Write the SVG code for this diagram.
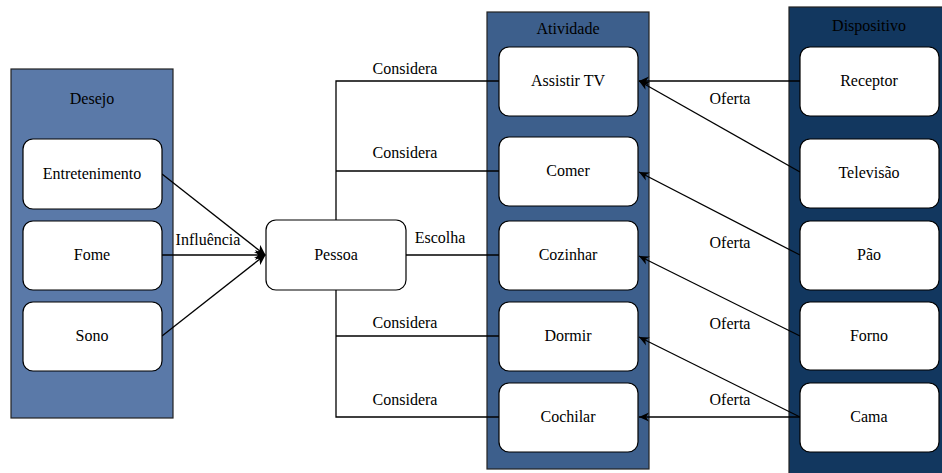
<svg xmlns="http://www.w3.org/2000/svg" width="942" height="473" viewBox="0 0 942 473">
<defs>
<style>
.c1{fill:#5a79a8;stroke:#222;stroke-width:1.2}
.c2{fill:#3d5f8c;stroke:#222;stroke-width:1.2}
.c3{fill:#12375f;stroke:#222;stroke-width:1.2}
.n{fill:#fff;stroke:#000;stroke-width:1.2}
text{font-family:"Liberation Serif","Times New Roman",serif;font-size:16px;fill:#000;text-anchor:middle}
.e{fill:none;stroke:#000;stroke-width:1.3}
</style>
<marker id="af" markerWidth="12" markerHeight="10" refX="10" refY="5" orient="auto" markerUnits="userSpaceOnUse">
<path d="M0,0 L11,5 L0,10 L3,5 Z" fill="#000"/>
</marker>
<marker id="ao" markerWidth="12" markerHeight="10" refX="10" refY="5" orient="auto" markerUnits="userSpaceOnUse">
<path d="M0,0.5 L10,5 L0,9.5 L3,5 Z" fill="#000"/>
</marker>
</defs>
<rect width="942" height="473" fill="#fff"/>
<g id="desejo">
<rect class="c1" x="11" y="69" width="162" height="349"/>
<text x="92" y="104">Desejo</text>
</g>
<g id="atividade">
<rect class="c2" x="487" y="12" width="162" height="457"/>
<text x="568" y="34">Atividade</text>
</g>
<g id="dispositivo">
<rect class="c3" x="789" y="7" width="160" height="470"/>
<text x="869" y="31">Dispositivo</text>
</g>
<g id="connectors">
<path class="e" d="M162,174 L265,255" marker-end="url(#af)"/>
<path class="e" d="M162,255 L265,255" marker-end="url(#af)"/>
<path class="e" d="M162,336 L265,255" marker-end="url(#af)"/>
<text x="208" y="245">Influência</text>
<path class="e" d="M336,220 L336,81 L499,81"/>
<path class="e" d="M336,171 L499,171"/>
<path class="e" d="M406,255 L499,255"/>
<path class="e" d="M336,290 L336,417 L499,417"/>
<path class="e" d="M336,336 L499,336"/>
<text x="405" y="74">Considera</text>
<text x="405" y="158">Considera</text>
<text x="440" y="243">Escolha</text>
<text x="405" y="328">Considera</text>
<text x="405" y="405">Considera</text>
<path class="e" d="M800,81 L639,81" marker-end="url(#ao)"/>
<path class="e" d="M800,172 L639,81" marker-end="url(#ao)"/>
<path class="e" d="M800,255 L639,172" marker-end="url(#ao)"/>
<path class="e" d="M800,336 L639,256" marker-end="url(#ao)"/>
<path class="e" d="M800,417 L639,337" marker-end="url(#ao)"/>
<path class="e" d="M800,417 L639,417" marker-end="url(#ao)"/>
<text x="730" y="104">Oferta</text>
<text x="730" y="248">Oferta</text>
<text x="730" y="329">Oferta</text>
<text x="730" y="405">Oferta</text>
</g>
<g id="entretenimento"><rect class="n" x="23" y="139" width="139" height="70" rx="10"/><text x="92" y="179">Entretenimento</text></g>
<g id="fome"><rect class="n" x="23" y="221" width="139" height="69" rx="10"/><text x="92" y="260">Fome</text></g>
<g id="sono"><rect class="n" x="23" y="302" width="139" height="69" rx="10"/><text x="92" y="341">Sono</text></g>
<g id="pessoa"><rect class="n" x="266" y="220" width="140" height="70" rx="10"/><text x="336" y="260">Pessoa</text></g>
<g id="assistir"><rect class="n" x="499" y="47" width="139" height="69" rx="10"/><text x="568" y="86">Assistir TV</text></g>
<g id="comer"><rect class="n" x="499" y="137" width="139" height="69" rx="10"/><text x="568" y="176">Comer</text></g>
<g id="cozinhar"><rect class="n" x="499" y="221" width="139" height="69" rx="10"/><text x="568" y="260">Cozinhar</text></g>
<g id="dormir"><rect class="n" x="499" y="302" width="139" height="69" rx="10"/><text x="568" y="341">Dormir</text></g>
<g id="cochilar"><rect class="n" x="499" y="383" width="139" height="69" rx="10"/><text x="568" y="422">Cochilar</text></g>
<g id="receptor"><rect class="n" x="800" y="47" width="139" height="69" rx="10"/><text x="869" y="86">Receptor</text></g>
<g id="televisao"><rect class="n" x="800" y="139" width="139" height="69" rx="10"/><text x="869" y="178">Televisão</text></g>
<g id="pao"><rect class="n" x="800" y="221" width="139" height="69" rx="10"/><text x="869" y="260">Pão</text></g>
<g id="forno"><rect class="n" x="800" y="302" width="139" height="68" rx="10"/><text x="869" y="341">Forno</text></g>
<g id="cama"><rect class="n" x="800" y="383" width="139" height="69" rx="10"/><text x="869" y="422">Cama</text></g>
</svg>
